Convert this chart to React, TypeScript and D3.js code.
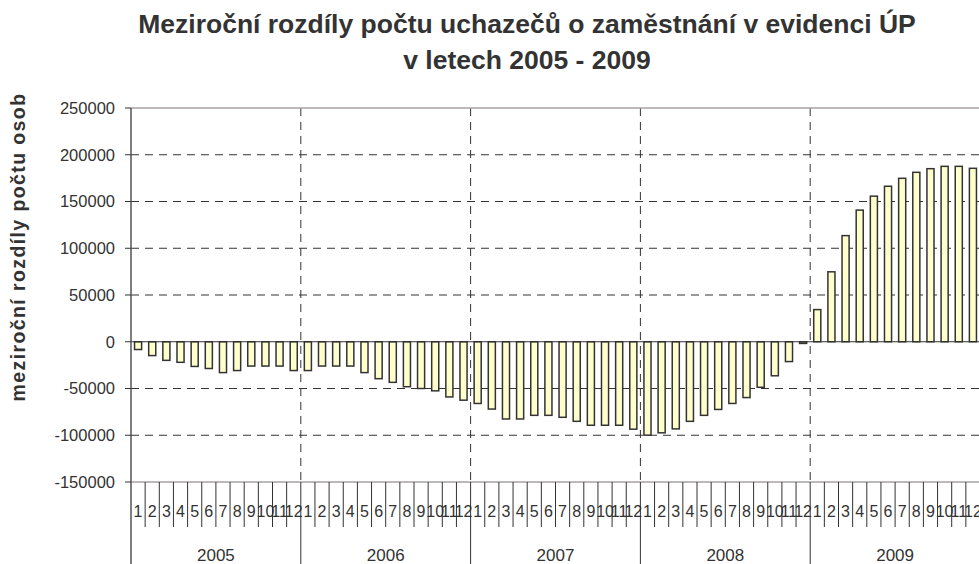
import React from "react";
import * as d3 from "d3";

const years = ["2005", "2006", "2007", "2008", "2009"];
const months = ["1", "2", "3", "4", "5", "6", "7", "8", "9", "10", "11", "12"];

// year-over-year difference, one value per month, 2005-01 .. 2009-12
const values2005 = [-8300, -14800, -19900, -22000, -26400, -28600, -33000, -30800, -26000, -26000, -26000, -30800];
const values2006 = [-30800, -26000, -26000, -26000, -33000, -39500, -43400, -48100, -50000, -52500, -59000, -62500];
const values2007 = [-66000, -72000, -82600, -82600, -78700, -78700, -80800, -85100, -89300, -89300, -89300, -93500];
const values2008 = [-99900, -97400, -93200, -85100, -78700, -72400, -66000, -59700, -48700, -36400, -21200, -1800];
const values2009 = [34400, 74800, 113500, 140800, 155700, 166300, 174800, 181200, 185100, 187600, 187600, 185500];

const yTicks = [250000, 200000, 150000, 100000, 50000, 0, -50000, -100000, -150000];

const W = 979;
const H = 564;
const plot = { left: 131, right: 980, top: 108, bottom: 482 };
const textColor = "#333333";
const font = "'Liberation Sans', Arial, sans-serif";

const App = () => {
  const allValues = [values2005, values2006, values2007, values2008, values2009].flat();
  const keys = allValues.map((_, i) => `${i}`);

  const x = d3.scaleBand().domain(keys).range([plot.left, plot.right]).paddingInner(0.5).paddingOuter(0.25);
  const step = x.step();
  const slotX = (i: number) => plot.left + i * step;
  const y = d3.scaleLinear().domain([-150000, 250000]).range([plot.bottom, plot.top]);

  return (
    <svg width={W} height={H} style={{ position: "absolute", left: 0, top: 0, background: "#fff" }}>
      {/* title */}
      <text x={527} y={33} textAnchor="middle" fontFamily={font} fontWeight="bold" fontSize={26.5} fill={textColor}>
        Meziroční rozdíly počtu uchazečů o zaměstnání v evidenci ÚP
      </text>
      <text x={527} y={69} textAnchor="middle" fontFamily={font} fontWeight="bold" fontSize={26.5} fill={textColor}>
        v letech 2005 - 2009
      </text>

      {/* y axis title */}
      <text
        transform={`translate(25, 247) rotate(-90)`}
        textAnchor="middle"
        fontFamily={font}
        fontWeight="bold"
        fontSize={19.5}
        letterSpacing={1.4}
        fill={textColor}
      >
        meziroční rozdíly počtu osob
      </text>

      {/* horizontal gridlines */}
      {yTicks.filter((t) => t !== 0 && t !== 250000 && t !== -150000).map((t) => (
        <line key={t} x1={plot.left} x2={plot.right} y1={y(t)} y2={y(t)} stroke="#333" strokeWidth={1} strokeDasharray="8,6" />
      ))}
      {/* vertical year separators inside plot */}
      {years.slice(1).map((yr, i) => (
        <line key={yr} x1={slotX((i + 1) * 12)} x2={slotX((i + 1) * 12)} y1={plot.top} y2={plot.bottom} stroke="#333" strokeWidth={1} strokeDasharray="8,6" />
      ))}

      {/* plot frame */}
      <line x1={plot.left} x2={plot.right} y1={plot.top} y2={plot.top} stroke="#a8a0a0" strokeWidth={1.5} />
      <line x1={plot.left} x2={plot.right} y1={plot.bottom} y2={plot.bottom} stroke="#a8a0a0" strokeWidth={1.5} />

      {/* bars */}
      {allValues.map((v, i) => (
        <rect
          key={i}
          x={x(keys[i])}
          y={Math.min(y(v), y(0))}
          width={x.bandwidth()}
          height={Math.max(Math.abs(y(v) - y(0)), 1)}
          fill="#ffffcc"
          stroke="#333"
          strokeWidth={1.5}
        />
      ))}

      {/* zero line */}
      <line x1={plot.left} x2={plot.right} y1={y(0)} y2={y(0)} stroke="#333" strokeWidth={1.2} />

      {/* y axis */}
      <line x1={plot.left} x2={plot.left} y1={plot.top} y2={H} stroke="#555" strokeWidth={1.5} />
      {yTicks.map((t) => (
        <g key={t}>
          <line x1={plot.left - 6} x2={plot.left} y1={y(t)} y2={y(t)} stroke="#333" strokeWidth={1} />
          <text x={115} y={y(t)} dy="0.35em" textAnchor="end" fontFamily={font} fontSize={16.5} fill={textColor}>
            {t}
          </text>
        </g>
      ))}

      {/* month ticks and labels */}
      {allValues.map((_, i) => (
        <g key={i}>
          {i > 0 && i % 12 !== 0 && (
            <line x1={slotX(i)} x2={slotX(i)} y1={plot.bottom} y2={527} stroke="#333" strokeWidth={1} />
          )}
          <text x={slotX(i) + step / 2} y={517} textAnchor="middle" fontFamily={font} fontSize={16} fill={textColor}>
            {months[i % 12]}
          </text>
        </g>
      ))}

      {/* year separators below axis and year labels */}
      {years.map((yr, j) => (
        <g key={yr}>
          {j > 0 && <line x1={slotX(j * 12)} x2={slotX(j * 12)} y1={plot.bottom} y2={H} stroke="#333" strokeWidth={1} />}
          <text x={slotX(j * 12) + step * 6} y={561} textAnchor="middle" fontFamily={font} fontSize={17} fill={textColor}>
            {yr}
          </text>
        </g>
      ))}
    </svg>
  );
};

export default App;
